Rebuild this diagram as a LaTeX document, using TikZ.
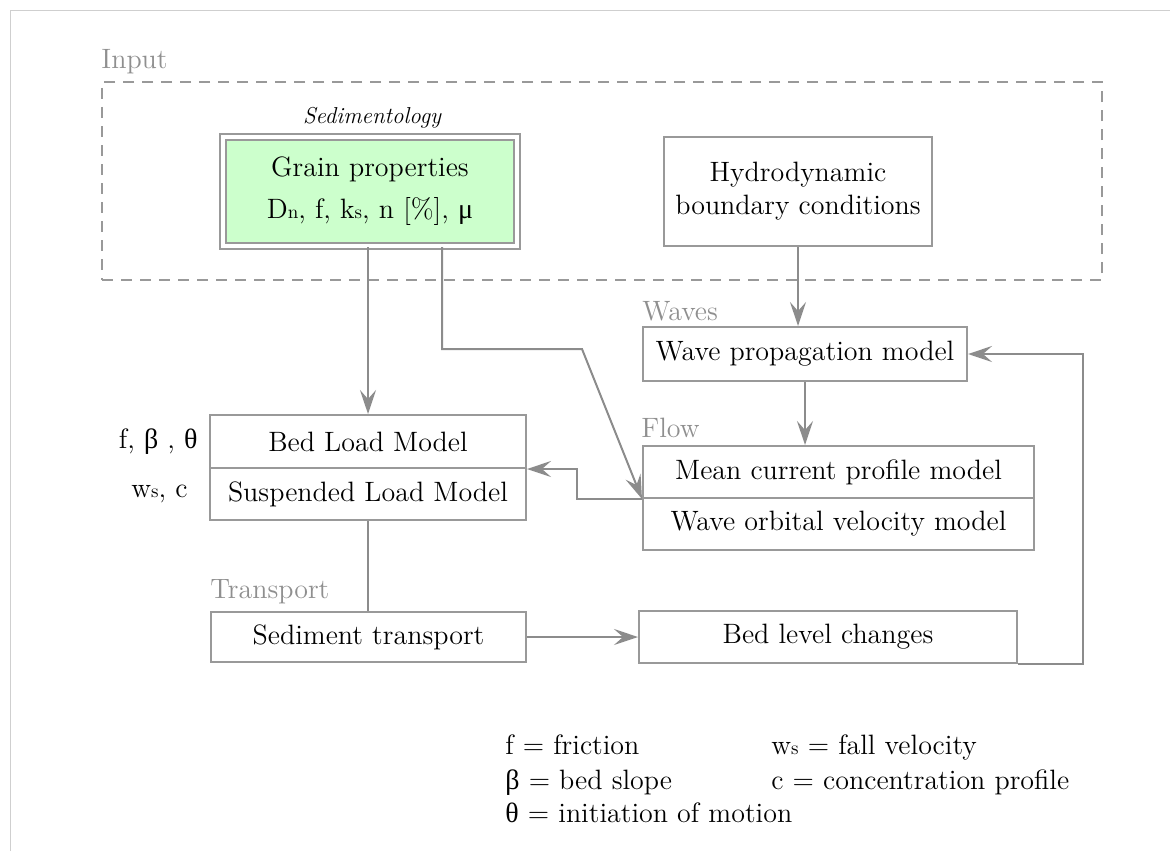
\documentclass[tikz,border=0pt]{standalone}
\usepackage{fontspec}
\usetikzlibrary{arrows.meta}
\newfontfamily\grk{Liberation Serif}
\definecolor{edgegray}{HTML}{999999}
\definecolor{conngray}{HTML}{8C8C8C}
\definecolor{labelgray}{HTML}{8F8F8F}
\definecolor{framegray}{HTML}{CFCFCF}
\definecolor{grainfill}{HTML}{CCFFCC}
% small index letters set on the baseline
\newcommand{\idx}[1]{{\fontsize{9.5}{10}\selectfont #1}}
\tikzset{
  box/.style={draw=edgegray, line width=1pt, inner sep=0pt, align=center},
  group/.style={font=\fontsize{14}{17}\selectfont, text=labelgray, inner sep=0pt},
  conn/.style={draw=conngray, line width=1pt},
  arr/.style={conn, -{Stealth[length=12pt,width=8pt,inset=4.5pt]}},
  legend/.style={anchor=base west, inner sep=0pt},
}
\begin{document}
\begin{tikzpicture}[x=0.5pt,y=-0.5pt,font=\fontsize{14}{17}\selectfont]
\useasboundingbox (0,0) rectangle (1170,851);
% page frame
\draw[framegray, line width=0.5pt] (10,851) -- (10,10) -- (1170,10);

% input group
\node[draw=edgegray, line width=1pt, dash pattern=on 5.5pt off 4pt,
      minimum width=500pt, minimum height=99pt, inner sep=0pt] (inputbox) at (602,181) {};
\node[group, anchor=base west] (inputlbl) at (101,68) {Input};

\node[anchor=base, inner sep=0pt, font=\fontsize{11.5}{13}\selectfont\itshape] (sedlbl) at (372,123) {Sedimentology};
\node[box, fill=grainfill, double=white, double distance=2pt,
      minimum width=147pt, minimum height=54.5pt, font=\fontsize{14}{21}\selectfont] (grain) at (370,191.5)
  {Grain properties\\ D\idx{n}, f, k\idx{s}, n [\%],\ {\grk μ}};
\node[box, minimum width=134pt, minimum height=54.5pt, font=\fontsize{14}{16.5}\selectfont] (hydro) at (798,191.5)
  {Hydrodynamic\\boundary conditions};

% waves
\node[group, anchor=base west] (waveslbl) at (642,320) {Waves};
\node[box, minimum width=162pt, minimum height=27pt] (wave) at (805,354) {Wave propagation model};

% flow
\node[group, anchor=base west] (flowlbl) at (641,437) {Flow};
\node[box, minimum width=195.5pt, minimum height=26pt] (meancur) at (838.5,472) {Mean current profile model};
\node[box, minimum width=195.5pt, minimum height=26pt] (orbital) at (838.5,524) {Wave orbital velocity model};

% load models
\node[box, minimum width=158pt, minimum height=26.5pt] (bedload) at (368,441.5) {Bed Load Model};
\node[box, minimum width=158pt, minimum height=26pt] (susp) at (368,494) {Suspended Load Model};
\node[anchor=east, inner sep=0pt] (bedpar) at (198,441.5) {f, {\grk β} , {\grk θ}};
\node[anchor=east, inner sep=0pt] (susppar) at (188,494) {w\idx{s}, c};

% transport
\node[group, anchor=base west] (translbl) at (210,598) {Transport};
\node[box, minimum width=157.5pt, minimum height=25pt] (sed) at (368.5,637) {Sediment transport};
\node[box, minimum width=189pt, minimum height=26pt] (bedlevel) at (828,637) {Bed level changes};

% connectors
\coordinate (bend) at (582,349);
\coordinate (loop) at (1083,354);
\draw[arr] (bedload.north |- grain.south) -- (bedload.north);
\draw[arr] ([xshift=36pt]grain.south) |- (bend) -- (meancur.south west);
\draw[arr] (meancur.south west) -- ++(-65,0) |- (bedload.south east);
\draw[arr] (hydro.south) -- (hydro.south |- wave.north);
\draw[arr] (wave.south) -- (wave.south |- meancur.north);
\draw[conn] (susp.south) -- (susp.south |- sed.north);
\draw[arr] (sed.east) -- (bedlevel.west);
\draw[arr] (bedlevel.south east) -- (bedlevel.south east -| loop) -- (loop) -- (wave.east);

% legend
\node[legend] (lf) at (505,754) {f = friction};
\node[legend] (lb) at (505,789) {{\grk β} = bed slope};
\node[legend] (lt) at (505,822) {{\grk θ} = initiation of motion};
\node[legend] (lw) at (771,754) {w\idx{s} = fall velocity};
\node[legend] (lc) at (771,789) {c = concentration profile};
\end{tikzpicture}
\end{document}
